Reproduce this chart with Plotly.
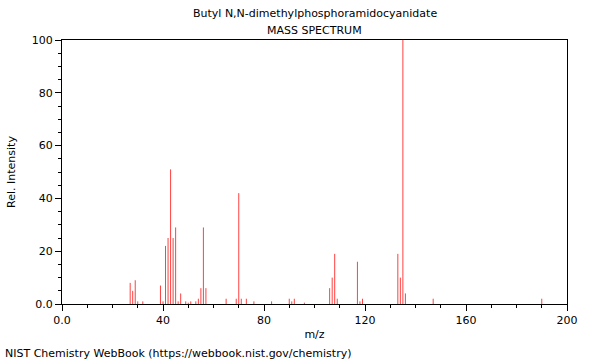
import plotly.graph_objects as go

mz = [27, 28, 29, 30, 32, 39, 40, 41, 42, 43, 44, 45, 46, 47, 49, 50, 51, 53, 54, 55, 56, 57,
      65, 69, 70, 71, 73, 76, 83, 90, 91, 92, 96, 106, 107, 108, 109, 117, 118, 119,
      133, 134, 135, 136, 147, 190]
intensity = [8, 5, 9, 1, 1, 7, 1, 22, 25, 51, 25, 29, 1, 4, 1, 0.5, 1, 1, 2, 6, 29, 6,
             2, 2, 42, 2, 2, 1, 1, 2, 1, 2, 0.5, 6, 10, 19, 2, 16, 1, 2,
             19, 10, 100, 4, 2, 2]

xs, ys = [], []
for m, v in zip(mz, intensity):
    xs += [m, m, None]
    ys += [0, v, None]

fig = go.Figure()
fig.add_trace(go.Scatter(x=xs, y=ys, mode="lines",
                         line=dict(color="rgba(255,0,0,0.75)", width=1),
                         hoverinfo="skip", showlegend=False))

font = dict(family="DejaVu Sans", size=11, color="black")
fig.update_layout(
    width=600, height=360,
    margin=dict(l=62, r=33, t=40, b=56),
    paper_bgcolor="white", plot_bgcolor="white",
    font=font,
    showlegend=False,
    annotations=[
        dict(text="Butyl N,N-dimethylphosphoramidocyanidate", xref="paper", yref="paper",
             x=0.5, y=1, yshift=27, showarrow=False, xanchor="center", yanchor="middle",
             font=dict(family="DejaVu Sans", size=11)),
        dict(text="MASS SPECTRUM", xref="paper", yref="paper",
             x=0.5, y=1, yshift=10, showarrow=False, xanchor="center", yanchor="middle",
             font=dict(family="DejaVu Sans", size=11)),
        dict(text="NIST Chemistry WebBook (https://webbook.nist.gov/chemistry)",
             xref="paper", yref="paper", x=0, xshift=-59, y=0, yshift=-49,
             showarrow=False, xanchor="left", yanchor="middle",
             font=dict(family="DejaVu Sans", size=11)),
    ],
)
fig.update_xaxes(
    range=[0, 200], showgrid=False, zeroline=False, automargin=False,
    showline=True, linecolor="black", linewidth=1, mirror=True,
    tickmode="array", tickvals=[0, 40, 80, 120, 160, 200],
    ticktext=["0.0", "40", "80", "120", "160", "200"],
    ticks="outside", ticklen=6, tickcolor="black",
    minor=dict(tickvals=list(range(0, 201, 10)), ticks="outside", ticklen=3, tickcolor="black"),
    title=dict(text="m/z", font=font, standoff=4),
    tickfont=font,
)
fig.update_yaxes(
    range=[0, 100], showgrid=False, zeroline=False, automargin=False,
    showline=True, linecolor="black", linewidth=1, mirror=True,
    tickmode="array", tickvals=[0, 20, 40, 60, 80, 100],
    ticktext=["0.0", "20", "40", "60", "80", "100"],
    ticks="outside", ticklen=6, tickcolor="black",
    minor=dict(tickvals=list(range(0, 101, 5)), ticks="outside", ticklen=3, tickcolor="black"),
    title=dict(text="Rel. Intensity", font=font, standoff=13),
    tickfont=font,
)
fig.write_html("out.html", config={"displayModeBar": False},
               post_script="document.body.style.margin='0';document.body.style.padding='0';document.body.style.overflow='hidden';")
